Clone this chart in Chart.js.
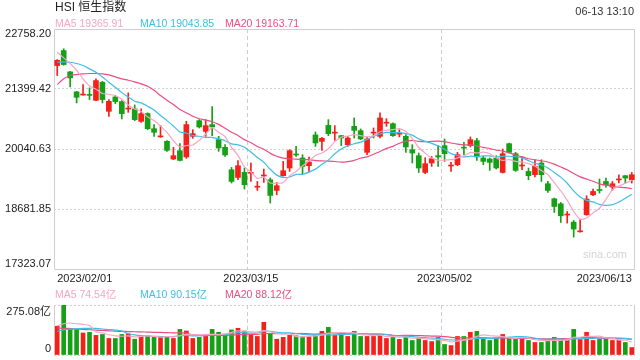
<!DOCTYPE html>
<html>
<head>
<meta charset="utf-8">
<script src="https://cdn.jsdelivr.net/npm/chart.js@4.4.0/dist/chart.umd.min.js"></script>
<style>
  html, body { margin: 0; padding: 0; background: #fff; }
  #wrap { position: relative; width: 640px; height: 360px; overflow: hidden;
          font-family: "Liberation Sans", Arial, "Noto Sans CJK SC", sans-serif; }
  #kline { position: absolute; left: 0; top: 0; }
  #vol { position: absolute; left: 0; top: 283px; }
  .txt { position: absolute; white-space: nowrap; }
  .leg span { position: absolute; top: 0; white-space: nowrap; }
</style>
</head>
<body>
<div id="wrap">
  <canvas id="kline" width="640" height="290"></canvas>
  <canvas id="vol" width="640" height="77"></canvas>

  <div class="txt" style="left:55px;top:1px;font-size:12px;line-height:13px;color:#222">HSI 恒生指数</div>
  <div class="txt" style="right:6px;top:6px;font-size:11px;line-height:11px;color:#333">06-13 13:10</div>

  <div class="txt leg" style="left:0;top:18px;font-size:10.5px;line-height:11px">
    <span style="left:55px;color:#f7a6c4">MA5 19365.91</span>
    <span style="left:140px;color:#3dbfe4">MA10 19043.85</span>
    <span style="left:225px;color:#eb4d84">MA20 19163.71</span>
  </div>
  <div class="txt leg" style="left:0;top:289px;font-size:10.5px;line-height:11px">
    <span style="left:55px;color:#f7a6c4">MA5 74.54亿</span>
    <span style="left:140px;color:#3dbfe4">MA10 90.15亿</span>
    <span style="left:225px;color:#eb4d84">MA20 88.12亿</span>
  </div>
  <div class="txt" style="left:583px;top:248px;font-size:11px;line-height:12px;color:#d4d4d4">sina.com</div>
</div>

<script>
/* ---------- data ---------- */
const dates = [
  '2023/02/01','2023/02/02','2023/02/03','2023/02/06','2023/02/07','2023/02/08','2023/02/09','2023/02/10','2023/02/13','2023/02/14',
  '2023/02/15','2023/02/16','2023/02/17','2023/02/20','2023/02/21','2023/02/22','2023/02/23','2023/02/24','2023/02/27','2023/02/28',
  '2023/03/01','2023/03/02','2023/03/03','2023/03/06','2023/03/07','2023/03/08','2023/03/09','2023/03/10','2023/03/13','2023/03/14',
  '2023/03/15','2023/03/16','2023/03/17','2023/03/20','2023/03/21','2023/03/22','2023/03/23','2023/03/24','2023/03/27','2023/03/28',
  '2023/03/29','2023/03/30','2023/03/31','2023/04/03','2023/04/04','2023/04/06','2023/04/11','2023/04/12','2023/04/13','2023/04/14',
  '2023/04/17','2023/04/18','2023/04/19','2023/04/20','2023/04/21','2023/04/24','2023/04/25','2023/04/26','2023/04/27','2023/04/28',
  '2023/05/02','2023/05/03','2023/05/04','2023/05/05','2023/05/08','2023/05/09','2023/05/10','2023/05/11','2023/05/12','2023/05/15',
  '2023/05/16','2023/05/17','2023/05/18','2023/05/19','2023/05/22','2023/05/23','2023/05/24','2023/05/25','2023/05/29','2023/05/30',
  '2023/05/31','2023/06/01','2023/06/02','2023/06/05','2023/06/06','2023/06/07','2023/06/08','2023/06/09','2023/06/12','2023/06/13'
];

const opens = [
  21930,22270,21787,21334,21262,21270,21143,21552,20894,21220,
  21114,20945,20949,20667,20842,20501,20315,20214,19814,20002,
  19860,20327,20683,20440,20593,20252,20078,19571,19397,19510,
  19490,19175,19430,19345,19102,19436,19610,19920,19837,19662,
  20360,20214,20576,20400,20343,20139,20554,20456,19964,20400,
  20327,20625,20615,20375,20327,20025,19889,19510,19724,19890,
  20116,19655,19685,20070,20116,20230,19837,19814,19837,19510,
  20161,19935,19655,19533,19459,19723,19254,18914,18800,18545,
  18385,18165,18551,19004,19110,19306,19179,19340,19436,19345
];
const highs = [
  22066,22309,21801,21347,21500,21425,21629,21574,21159,21257,
  21136,21311,21039,20948,20860,20592,20570,20229,20077,20161,
  20667,20479,20706,20706,21000,20327,20139,19624,19776,19610,
  19724,19306,19587,19383,19284,19760,20025,20100,19912,19859,
  20427,20305,20706,20570,20350,20327,20744,20495,20313,20517,
  20857,20728,20631,20479,20366,20139,19950,19844,19873,20116,
  20268,19738,19964,20191,20313,20282,19873,19837,19889,20041,
  20177,19964,19859,19610,19798,19798,19306,18930,18830,18626,
  18422,18454,18982,19134,19361,19383,19306,19458,19440,19510
];
const lows = [
  21704,21940,21447,21084,21257,21160,21135,21084,20780,21068,
  20721,20871,20683,20644,20479,20327,20304,19987,19800,19770,
  19828,20282,20517,20327,20343,19987,19873,19270,19345,19134,
  19306,19102,19284,18816,19004,19425,19533,19873,19481,19533,
  20100,20010,20343,20236,20116,20100,20290,20252,19912,20290,
  20290,20554,20327,20313,19964,19724,19510,19481,19647,19647,
  19760,19533,19662,19912,20086,19782,19685,19556,19587,19497,
  19950,19533,19572,19345,19406,19306,19057,18603,18376,18363,
  18045,18159,18540,18982,19042,19179,19102,19270,19270,19270
];
const closes = [
  22050,21953,21651,21211,21275,21255,21590,21160,21121,21114,
  20842,20955,20706,20842,20501,20418,20325,20010,19889,19782,
  20593,20388,20540,20570,20540,20064,19905,19306,19662,19231,
  19500,19185,19440,18989,19209,19549,20002,19905,19647,19746,
  20177,20282,20388,20410,20290,20290,20463,20268,20268,20410,
  20744,20635,20343,20385,20086,19950,19610,19708,19821,19860,
  19935,19665,19912,20060,20252,19860,19760,19738,19610,19935,
  19964,19556,19665,19436,19647,19459,19102,18739,18528,18555,
  18227,18180,18907,19079,19100,19231,19254,19350,19383,19458
];

const ma5 = [
  22232,22105,21976,21824,21628,21469,21396,21298,21280,21248,
  21165,21038,20948,20892,20769,20684,20558,20419,20229,20085,
  20120,20132,20238,20375,20526,20420,20324,20077,19895,19634,
  19521,19377,19404,19269,19265,19274,19438,19531,19662,19770,
  19895,19951,20048,20201,20309,20332,20368,20344,20316,20340,
  20431,20465,20480,20503,20439,20280,20075,19948,19835,19790,
  19787,19798,19839,19886,19965,19950,19969,19934,19844,19781,
  19801,19761,19746,19711,19654,19553,19462,19277,19095,18877,
  18630,18446,18479,18590,18699,18899,19114,19203,19264,19335
];
const ma10 = [
  22005,22014,22005,21976,21931,21855,21778,21673,21552,21438,
  21317,21217,21123,21086,21009,20925,20798,20683,20560,20427,
  20402,20345,20329,20302,20306,20270,20228,20158,20135,20080,
  19971,19850,19740,19582,19449,19398,19407,19467,19466,19517,
  19585,19695,19789,19932,20040,20114,20160,20196,20258,20325,
  20381,20417,20412,20410,20389,20355,20270,20214,20169,20114,
  20033,19936,19893,19861,19877,19868,19883,19886,19865,19873,
  19876,19865,19840,19778,19717,19677,19611,19511,19403,19265,
  19091,18954,18878,18842,18788,18765,18780,18841,18927,19017
];
const ma20 = [
  21500,21629,21704,21726,21742,21750,21750,21742,21719,21674,
  21629,21598,21560,21515,21461,21370,21250,21143,21046,20933,
  20860,20781,20726,20694,20657,20598,20513,20421,20348,20253,
  20186,20098,20035,19942,19877,19834,19818,19812,19800,19799,
  19778,19772,19765,19757,19744,19756,19784,19832,19862,19921,
  19983,20056,20101,20171,20214,20234,20215,20205,20214,20219,
  20207,20176,20153,20135,20133,20112,20077,20050,20017,19993,
  19954,19901,19867,19819,19797,19773,19747,19699,19634,19569,
  19484,19409,19359,19310,19252,19221,19196,19176,19165,19141
];

// turnover, 亿
const volumes = [
  158,275.08,147,141,121,125,108,113,91,91,
  113,117,87,102,106,99,99,102,91,141,
  132,91,97,106,141,125,113,138,147,132,
  110,102,180,115,87,97,108,106,100,102,
  110,130,152,110,117,102,130,102,102,102,
  113,91,99,86,108,80,93,80,74,97,
  58,52,102,102,125,130,93,80,93,113,
  93,86,91,80,69,69,86,97,84,80,
  141,86,125,80,86,91,80,80,69,41
];
const volMa5 = [
  160,172,176,172,168.4,161.8,128.4,121.6,111.6,105.6,
  103.2,105,99.8,102,105,102.2,98.6,101.6,99.4,106.4,
  113,111.4,110.4,113.4,113.4,112,116.4,124.6,132.8,131,
  128,125.8,134.2,127.8,118.8,116.2,117.4,102.6,99.6,102.6,
  105.2,109.6,118.8,120.8,123.8,122.2,122.2,112.2,110.6,107.6,
  109.8,102,101.4,98.2,99.4,92.8,93.2,89.4,87,84.8,
  80.4,72.2,76.6,82.2,87.8,102.2,110.4,106,104.2,101.8,
  94.4,93,95.2,92.6,83.8,79,79,80.2,81,83.2,
  97.6,97.6,103.2,102.4,103.6,93.6,92.4,83.4,81.2,72.2
];
const volMa10 = [
  130,138,142,144,146,147,146,143,140,137,
  132.5,116.7,110.7,106.8,105.3,102.7,101.8,100.7,100.7,105.7,
  107.6,105,106,106.4,109.9,112.5,113.9,117.5,123.1,122.2,
  120,121.1,129.4,130.3,124.9,122.1,121.6,118.4,113.7,110.7,
  110.7,113.5,110.7,110.2,113.2,113.7,115.9,115.5,115.7,115.7,
  116,112.1,106.8,104.4,103.5,101.3,97.6,95.4,92.6,92.1,
  86.6,82.7,83,84.6,86.3,91.3,91.3,91.3,93.2,94.8,
  98.3,101.7,100.6,98.4,92.8,86.7,86,87.7,86.8,83.5,
  88.3,88.3,91.7,91.7,93.4,95.6,95,93.3,91.8,87.9
];
const volMa20 = [
  149,147,145,143,141,139,137,135,133,131,
  130,129,128,127,126,125,124,123,122,121.4,
  120,110.9,108.4,106.6,107.6,107.6,107.9,109.1,111.9,114,
  113.8,113.1,117.7,118.4,117.4,117.3,117.8,118,118.4,116.5,
  115.4,117.3,120,120.3,119.1,117.9,118.8,117,114.7,113.2,
  113.4,112.8,108.8,107.3,108.4,107.5,106.8,105.5,104.2,103.9,
  101.3,97.4,94.9,94.5,94.9,96.3,94.5,93.4,92.9,93.5,
  92.5,92.2,91.8,91.5,89.6,89,88.7,89.5,90,89.2,
  93.3,95,96.2,95.1,93.1,91.2,90.5,90.5,89.3,85.7
];

const yTicks = [17323.07, 18681.85, 20040.63, 21399.42, 22758.20];
const xTickDates = ['2023/02/01', '2023/03/15', '2023/05/02', '2023/06/13'];
const volTickLabels = ['0', '275.08亿'];

/* ---------- look ---------- */
const FONT = '"Liberation Sans", Arial, "Noto Sans CJK SC", sans-serif';
Chart.defaults.font.family = FONT;
Chart.defaults.font.size = 11;
Chart.defaults.color = '#222';

const UP = '#f4201a', DOWN = '#16a016';
const C5 = '#f7a6c4', C10 = '#3dbfe4', C20 = '#eb4d84';
const NONE = 'rgba(0,0,0,0)';
const dirColor = c => (c.dataIndex === undefined ? UP : (closes[c.dataIndex] >= opens[c.dataIndex] ? UP : DOWN));
const splitIdx = xTickDates.slice(1, 3).map(d => dates.indexOf(d));

// solid outline round the plot area
const frame = {
  id: 'frame',
  beforeDatasetsDraw(chart, args, opts) {
    const { ctx, chartArea: a } = chart;
    const l = a.left + 0.5, r = a.right - 0.5, t = a.top + 0.5, b = a.bottom + 0.5;
    ctx.save();
    ctx.strokeStyle = opts.color || '#cfcfcf';
    ctx.lineWidth = 1;
    ctx.beginPath();
    if (opts.box) {
      ctx.rect(l, t, r - l, b - t);
    } else {
      ctx.moveTo(l, a.top); ctx.lineTo(l, a.bottom);
      ctx.moveTo(r, a.top); ctx.lineTo(r, a.bottom);
    }
    ctx.stroke();
    ctx.restore();
  }
};

function maLine(label, data, color) {
  return { type: 'line', label, data, borderColor: color, borderWidth: 1.2,
           pointRadius: 0, tension: 0.2, order: 1 };
}

// y labels are nudged inside the box, so they must not push the plot area
function fixYAxis(s) {
  s.width = 54;
  s.paddingTop = 0;
  s.paddingBottom = 0;
}

const xGrid = {
  offset: true, drawTicks: false,
  color: c => (splitIdx.includes(c.index) ? '#cccccc' : NONE)
};

/* ---------- candles ---------- */
new Chart(document.getElementById('kline'), {
  type: 'bar',
  data: {
    labels: dates,
    datasets: [
      maLine('MA5', ma5, C5),
      maLine('MA10', ma10, C10),
      maLine('MA20', ma20, C20),
      { label: 'body', data: opens.map((o, i) => [o, closes[i]]), backgroundColor: dirColor,
        barThickness: 5, grouped: false, minBarLength: 1, order: 5 },
      { label: 'wick', data: lows.map((l, i) => [l, highs[i]]), backgroundColor: dirColor,
        barThickness: 1, grouped: false, order: 6 }
    ]
  },
  options: {
    responsive: false, animation: false, devicePixelRatio: 1,
    layout: { padding: { left: 0, right: 5, top: 29, bottom: 0 } },
    plugins: { legend: { display: false }, tooltip: { enabled: false }, frame: { box: true } },
    scales: {
      x: {
        offset: true,
        grid: xGrid,
        border: { display: false, dash: [4, 3] },
        ticks: {
          autoSkip: false, maxRotation: 0, minRotation: 0, align: 'inner', padding: 3,
          callback: v => (xTickDates.includes(dates[v]) ? dates[v] : '')
        },
        afterFit: s => { s.height = 21; }
      },
      y: {
        min: yTicks[0], max: yTicks[yTicks.length - 1],
        afterBuildTicks: s => { s.ticks = yTicks.map(v => ({ value: v })); },
        grid: { drawTicks: false, color: c => (c.index > 0 && c.index < yTicks.length - 1 ? '#d2d2d2' : NONE) },
        border: { display: false, dash: [2, 2] },
        ticks: {
          padding: 3, font: { size: 11, lineHeight: 0.91 },
          callback: (v, i) => {
            const t = v.toFixed(2);
            if (i === 0) return [t, ''];
            if (i === yTicks.length - 1) return ['', t];
            return t;
          }
        },
        afterFit: fixYAxis
      }
    }
  },
  plugins: [frame]
});

/* ---------- volume ---------- */
const volMax = Math.max(...volumes);
new Chart(document.getElementById('vol'), {
  type: 'bar',
  data: {
    labels: dates,
    datasets: [
      maLine('MA5', volMa5, C5),
      maLine('MA10', volMa10, C10),
      maLine('MA20', volMa20, C20),
      { label: 'vol', data: volumes, backgroundColor: dirColor, barThickness: 4, order: 5 }
    ]
  },
  options: {
    responsive: false, animation: false, devicePixelRatio: 1,
    layout: { padding: { left: 0, right: 5, top: 22, bottom: 5 } },
    plugins: { legend: { display: false }, tooltip: { enabled: false }, frame: { box: false } },
    scales: {
      x: {
        offset: true,
        grid: xGrid,
        border: { display: false, dash: [4, 3] },
        ticks: { display: false },
        afterFit: s => { s.height = 0; s.paddingLeft = 0; s.paddingRight = 0; }
      },
      y: {
        min: 0, max: volMax,
        afterBuildTicks: s => { s.ticks = [{ value: 0 }, { value: volMax }]; },
        grid: { drawTicks: false, color: '#d0d0d0' },
        border: { display: false, dash: [2, 2] },
        ticks: {
          padding: 3, font: { size: 11, lineHeight: 1.18 },
          callback: (v, i) => (i === 0 ? [volTickLabels[0], ''] : ['', volTickLabels[1]])
        },
        afterFit: fixYAxis
      }
    }
  },
  plugins: [frame]
});
</script>
</body>
</html>
